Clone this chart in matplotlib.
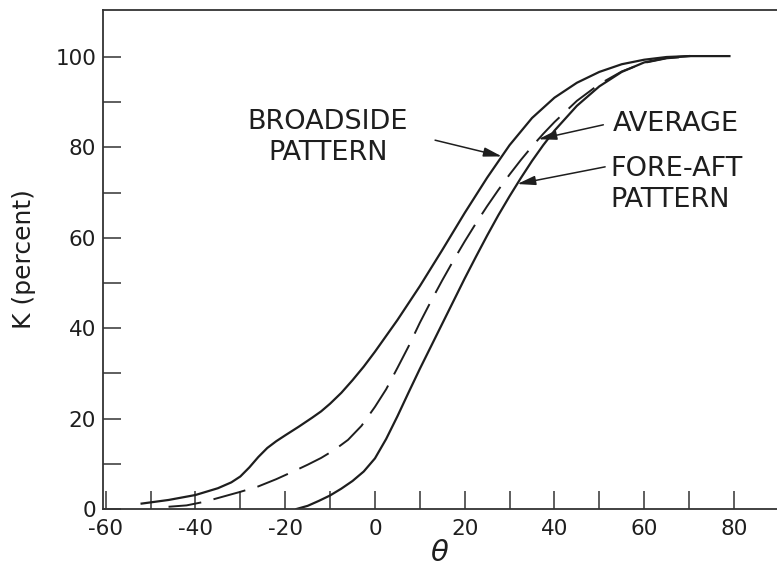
import matplotlib
matplotlib.use('Agg')
import matplotlib.pyplot as plt

plt.rcParams['font.family'] = 'DejaVu Sans'
plt.rcParams['axes.unicode_minus'] = False

# K versus theta
broadside_theta = [-52, -46, -40, -35, -32, -30, -28, -26, -24, -22, -20, -17, -14, -12, -10, -7.5,
                   -5, -2.5, 0, 5, 10, 15, 20, 25, 30, 35, 40, 45, 50, 55, 60, 65, 70, 79]
broadside_k = [1.2, 2.0, 3.1, 4.6, 5.9, 7.2, 9.2, 11.5, 13.5, 15.0, 16.3, 18.2, 20.2, 21.6, 23.3, 25.7,
               28.5, 31.5, 34.8, 41.8, 49.3, 57.3, 65.5, 73.3, 80.5, 86.5, 91.0, 94.3, 96.7, 98.4,
               99.4, 100.0, 100.2, 100.2]

average_theta = [-46, -42, -38, -34, -30, -26, -22, -18, -15, -12, -9, -6, -3, 0, 2.5, 5, 7.5, 10,
                 12.5, 15, 17.5, 20, 22.5, 25, 27.5, 30, 32.5, 35, 37.5, 40, 45, 50, 55, 60, 65, 70]
average_k = [0.5, 0.8, 1.6, 2.7, 3.8, 5.0, 6.6, 8.4, 9.8, 11.3, 13.1, 15.3, 18.4, 22.6, 26.5, 31.2,
             36.0, 41.2, 46.0, 50.6, 55.0, 59.2, 63.2, 67.0, 70.6, 74.0, 77.2, 80.2, 83.0, 85.6,
             90.3, 94.0, 96.8, 98.7, 99.7, 100.1]

foreaft_theta = [-17.5, -15, -12.5, -10, -7.5, -5, -2.5, 0, 2.5, 5, 7.5, 10, 12.5, 15, 17.5, 20,
                 22.5, 25, 27.5, 30, 32.5, 35, 37.5, 40, 45, 50, 55, 60, 65, 70]
foreaft_k = [0, 0.7, 1.8, 3.0, 4.5, 6.2, 8.3, 11.2, 15.5, 20.5, 25.8, 31.0, 36.0, 41.0, 46.0, 51.0,
             55.8, 60.5, 65.0, 69.2, 73.2, 77.0, 80.5, 83.7, 89.2, 93.5, 96.7, 98.8, 99.8, 100.2]

x_ticks = list(range(-60, 81, 10))
x_labels = ['-60', '', '-40', '', '-20', '', '0', '', '20', '', '40', '', '60', '', '80']
y_ticks = list(range(0, 101, 10))
y_labels = ['0', '', '20', '', '40', '', '60', '', '80', '', '100']

ink = '#1e1e1e'

fig = plt.figure(figsize=(7.77, 5.81), dpi=100)
ax = fig.add_axes([0.1326, 0.1239, 0.8674, 0.8589])

ax.plot(broadside_theta, broadside_k, color=ink, lw=1.6)
ax.plot(foreaft_theta, foreaft_k, color=ink, lw=1.6)
ax.plot(average_theta, average_k, color=ink, lw=1.4, dashes=(17, 6.5))

ax.set_xlim(-60.6, 89.6)
ax.set_ylim(0, 110.4)

ax.set_xticks(x_ticks)
ax.set_xticklabels(x_labels)
ax.set_yticks(y_ticks)
ax.set_yticklabels(y_labels)
ax.tick_params(direction='in', length=13, width=1.1, color='#333333', labelsize=15.5,
               labelcolor=ink, pad=5)
ax.tick_params(axis='x', pad=7)

for side in ['left', 'top', 'bottom']:
    ax.spines[side].set_color('#333333')
    ax.spines[side].set_linewidth(1.3)
ax.spines['right'].set_visible(False)

ax.set_xlabel(r'$\theta$', fontsize=21, color=ink, labelpad=0)
ax.set_ylabel('K (percent)', fontsize=18, color=ink, labelpad=14)

# curve labels with pointer arrows
ax.text(-10.5, 82.1, 'BROADSIDE\nPATTERN', fontsize=19.5, color=ink, ha='center', va='center',
        multialignment='center', linespacing=1.25)
ax.text(52.9, 85.2, 'AVERAGE', fontsize=19.5, color=ink, ha='left', va='center')
ax.text(52.5, 71.8, 'FORE-AFT\nPATTERN', fontsize=19.5, color=ink, ha='left', va='center',
        multialignment='left', linespacing=1.25)

arrow = dict(arrowstyle='-|>,head_length=1.1,head_width=0.28', color=ink, lw=1.1,
             shrinkA=0, shrinkB=0)
ax.annotate('', xy=(28.3, 78.0), xytext=(13.4, 81.6), arrowprops=arrow)
ax.annotate('', xy=(36.4, 81.8), xytext=(50.9, 85.0), arrowprops=arrow)
ax.annotate('', xy=(31.7, 71.9), xytext=(51.3, 75.7), arrowprops=arrow)

fig.savefig('out.png', dpi=100)
